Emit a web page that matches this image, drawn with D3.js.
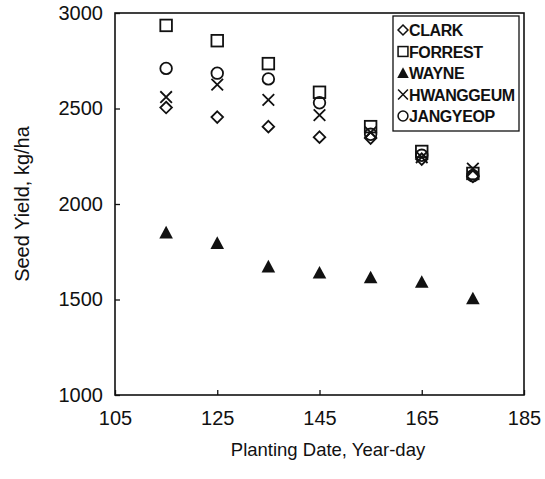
<!DOCTYPE html>
<html>
<head>
<meta charset="utf-8">
<script src="https://cdn.jsdelivr.net/npm/d3@7"></script>
<style>
  body { margin: 0; background: #fff; }
  text { font-family: Arial, "Liberation Sans", sans-serif; fill: #111; }
</style>
</head>
<body>
<svg width="545" height="479"></svg>
<script>
// planting dates (year-day)
const days = [115, 125, 135, 145, 155, 165, 175];

// seed yield, kg/ha, one array per cultivar
const clark     = [2505, 2455, 2405, 2350, 2345, 2235, 2145];
const forrest   = [2935, 2855, 2735, 2585, 2405, 2275, 2160];
const wayne     = [1850, 1795, 1672, 1640, 1615, 1592, 1505];
const hwanggeum = [2560, 2625, 2545, 2465, 2375, 2245, 2185];
const jangyeop  = [2710, 2685, 2655, 2530, 2365, 2255, 2148];

const names = ['CLARK', 'FORREST', 'WAYNE', 'HWANGGEUM', 'JANGYEOP'];
const shapes = ['diamond', 'square', 'triangle', 'cross', 'circle'];

const xTicks = [105, 125, 145, 165, 185];
const yTicks = [1000, 1500, 2000, 2500, 3000];

const svg = d3.select('svg');
const svgW = +svg.attr('width');
const svgH = +svg.attr('height');
svg.append('rect').attr('width', svgW).attr('height', svgH).attr('fill', '#fff');

const margin = { top: 13, left: 115, bottom: 84, right: 21 };
const innerW = svgW - margin.left - margin.right;
const innerH = svgH - margin.top - margin.bottom;

const xScale = d3.scaleLinear().domain([105, 185]).range([0, innerW]);
const yScale = d3.scaleLinear().domain([1000, 3000]).range([innerH, 0]);

const g = svg.append('g')
  .attr('transform', `translate(${margin.left}, ${margin.top})`);

// axes with inward ticks
const xAxis = g.append('g')
  .attr('transform', `translate(0, ${innerH})`)
  .call(d3.axisBottom(xScale).tickValues(xTicks).tickFormat(d3.format('d'))
    .tickSizeInner(-5).tickSizeOuter(0).tickPadding(16));
const yAxis = g.append('g')
  .call(d3.axisLeft(yScale).tickValues(yTicks).tickFormat(d3.format('d'))
    .tickSizeInner(-5).tickSizeOuter(0).tickPadding(12));

[xAxis, yAxis].forEach(a => {
  a.select('.domain').remove();
  a.selectAll('line').attr('stroke', '#111').attr('stroke-width', 1.3);
  a.selectAll('text').attr('font-size', 20).attr('fill', '#111')
    .style('font-family', 'Arial, "Liberation Sans", sans-serif');
});

// frame
g.append('rect')
  .attr('width', innerW).attr('height', innerH)
  .attr('fill', 'none').attr('stroke', '#111').attr('stroke-width', 1.6);

// axis titles
svg.append('text')
  .attr('x', 328).attr('y', 456)
  .attr('text-anchor', 'middle').attr('font-size', 18.5)
  .text('Planting Date, Year-day');
svg.append('text')
  .attr('transform', `translate(29, ${margin.top + innerH / 2}) rotate(-90)`)
  .attr('text-anchor', 'middle').attr('font-size', 20)
  .text('Seed Yield, kg/ha');

// marker drawing
const drawMarker = (sel, shape) => {
  const s = 5.8;
  if (shape === 'diamond') {
    sel.append('path').attr('d', `M0,${-s}L${s},0L0,${s}L${-s},0Z`)
      .attr('fill', 'none').attr('stroke', '#111').attr('stroke-width', 1.8);
  } else if (shape === 'square') {
    sel.append('rect').attr('x', -s).attr('y', -s).attr('width', 2 * s).attr('height', 2 * s)
      .attr('fill', 'none').attr('stroke', '#111').attr('stroke-width', 1.8);
  } else if (shape === 'triangle') {
    sel.append('path').attr('d', `M0,${-6.8}L6.8,5.8L-6.8,5.8Z`).attr('fill', '#111');
  } else if (shape === 'cross') {
    sel.append('path').attr('d', `M${-s},${-s}L${s},${s}M${s},${-s}L${-s},${s}`)
      .attr('stroke', '#111').attr('stroke-width', 1.8);
  } else {
    sel.append('circle').attr('r', 5.8)
      .attr('fill', 'none').attr('stroke', '#111').attr('stroke-width', 1.8);
  }
};

const series = [clark, forrest, wayne, hwanggeum, jangyeop];
series.forEach((vals, i) => {
  g.append('g').selectAll('g')
    .data(vals.map((v, j) => ({ day: days[j], yield: v })))
    .enter().append('g')
    .attr('transform', d => `translate(${xScale(d.day)}, ${yScale(d.yield)})`)
    .each(function () { drawMarker(d3.select(this), shapes[i]); });
});

// legend
const legend = svg.append('g').attr('transform', 'translate(393, 16)');
legend.append('rect').attr('width', 126).attr('height', 115)
  .attr('fill', '#fff').attr('stroke', '#111').attr('stroke-width', 1.3);
names.forEach((n, i) => {
  const row = legend.append('g').attr('transform', `translate(10, ${14 + i * 21.5})`);
  const m = row.append('g').attr('transform', 'scale(0.85)');
  drawMarker(m, shapes[i]);
  row.append('text').attr('x', 6).attr('y', 6)
    .attr('font-size', 16).attr('font-weight', 'bold')
    .attr('letter-spacing', -0.4)
    .text(n);
});
</script>
</body>
</html>
